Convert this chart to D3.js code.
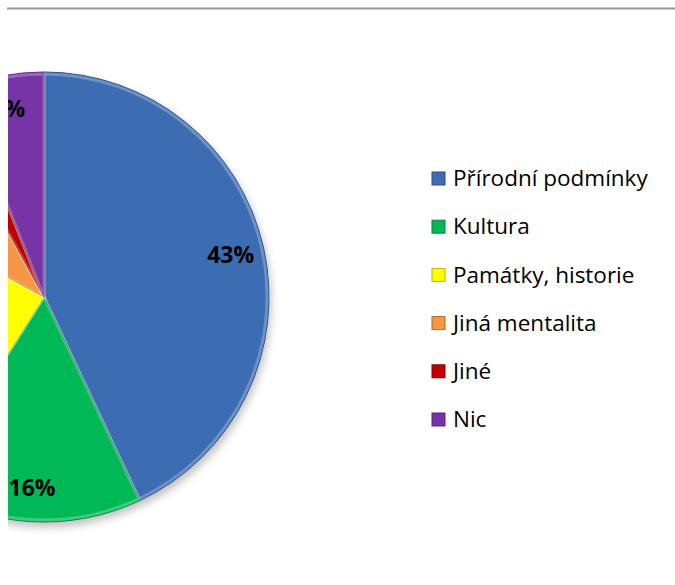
<!DOCTYPE html>
<html>
<head>
    <meta charset="utf-8">
    <style>
        body { margin: 0; background: #fff; }
        .pct { font: bold 23px "Open Sans", sans-serif; text-anchor: middle; fill: #000; }
        .legend text { font: 22.5px "Open Sans", sans-serif; fill: #000; }
    </style>
    <script src="https://d3js.org/d3.v7.min.js"></script>
</head>
<body>
<svg width="675" height="585"></svg>
<script>
    // data (percent)
    let categories = ["Přírodní podmínky", "Kultura", "Památky, historie", "Jiná mentalita", "Jiné", "Nic"];
    let values = [43, 16, 24, 9, 2, 6];
    let colors = ["#3C6DB3", "#00B856", "#FFFF00", "#F79646", "#C00000", "#7634A6"];

    let svg = d3.select("svg"),
        cx = 44, cy = 297, radius = 225;

    let defs = svg.append("defs");
    defs.append("clipPath").attr("id", "clip")
        .append("rect").attr("x", 8).attr("y", 0).attr("width", 667).attr("height", 585);
    let blur = defs.append("filter").attr("id", "shadow")
        .attr("x", "-20%").attr("y", "-20%").attr("width", "140%").attr("height", "140%");
    blur.append("feGaussianBlur").attr("stdDeviation", 4);

    // top rule
    svg.append("line").attr("x1", 7).attr("x2", 675).attr("y1", 7.5).attr("y2", 7.5)
        .attr("stroke", "#c8c8c8").attr("stroke-width", 1);
    svg.append("line").attr("x1", 7).attr("x2", 675).attr("y1", 8.8).attr("y2", 8.8)
        .attr("stroke", "#9a9a9a").attr("stroke-width", 1.4);

    let g = svg.append("g").attr("clip-path", "url(#clip)")
        .append("g").attr("transform", "translate(" + cx + "," + cy + ")");

    g.append("circle").attr("cx", 2).attr("cy", 5).attr("r", radius)
        .attr("fill", "#000").attr("opacity", 0.25).attr("filter", "url(#shadow)");

    let pie = d3.pie().sort(null).value(d => d);
    let arc = d3.arc().innerRadius(0).outerRadius(radius);
    let rim = d3.arc().innerRadius(0).outerRadius(radius - 2);
    let label = d3.arc().innerRadius(radius * 0.85).outerRadius(radius * 0.85);

    let slices = g.selectAll(".arc")
        .data(pie(values))
        .enter().append("g").attr("class", "arc");

    slices.append("path")
        .attr("d", arc)
        .attr("fill", (d, i) => colors[i])
        .attr("stroke", (d, i) => d3.color(colors[i]).darker(0.8))
        .attr("stroke-width", 1);

    // bevel highlight
    slices.append("path")
        .attr("d", rim)
        .attr("fill", "none")
        .attr("stroke", "#fff")
        .attr("stroke-opacity", 0.25)
        .attr("stroke-width", 3);

    // only labels that fall at least partly inside the visible area
    slices.filter(d => label.centroid(d)[0] + cx > -10)
        .append("text")
        .attr("class", "pct")
        .attr("transform", d => "translate(" + label.centroid(d) + ")")
        .attr("dy", "0.35em")
        .text(d => d.data + "%");

    let legend = svg.append("g").attr("class", "legend")
        .attr("transform", "translate(432,178)");

    let item = legend.selectAll("g")
        .data(categories)
        .enter().append("g")
        .attr("transform", (d, i) => "translate(0," + i * 48.2 + ")");

    item.append("rect")
        .attr("x", 0).attr("y", -6).attr("width", 13).attr("height", 13)
        .attr("fill", (d, i) => colors[i])
        .attr("stroke", (d, i) => d3.color(colors[i]).darker(0.9))
        .attr("stroke-width", 1);

    item.append("text")
        .attr("x", 21).attr("dy", "0.36em")
        .text(d => d);
</script>
</body>
</html>
